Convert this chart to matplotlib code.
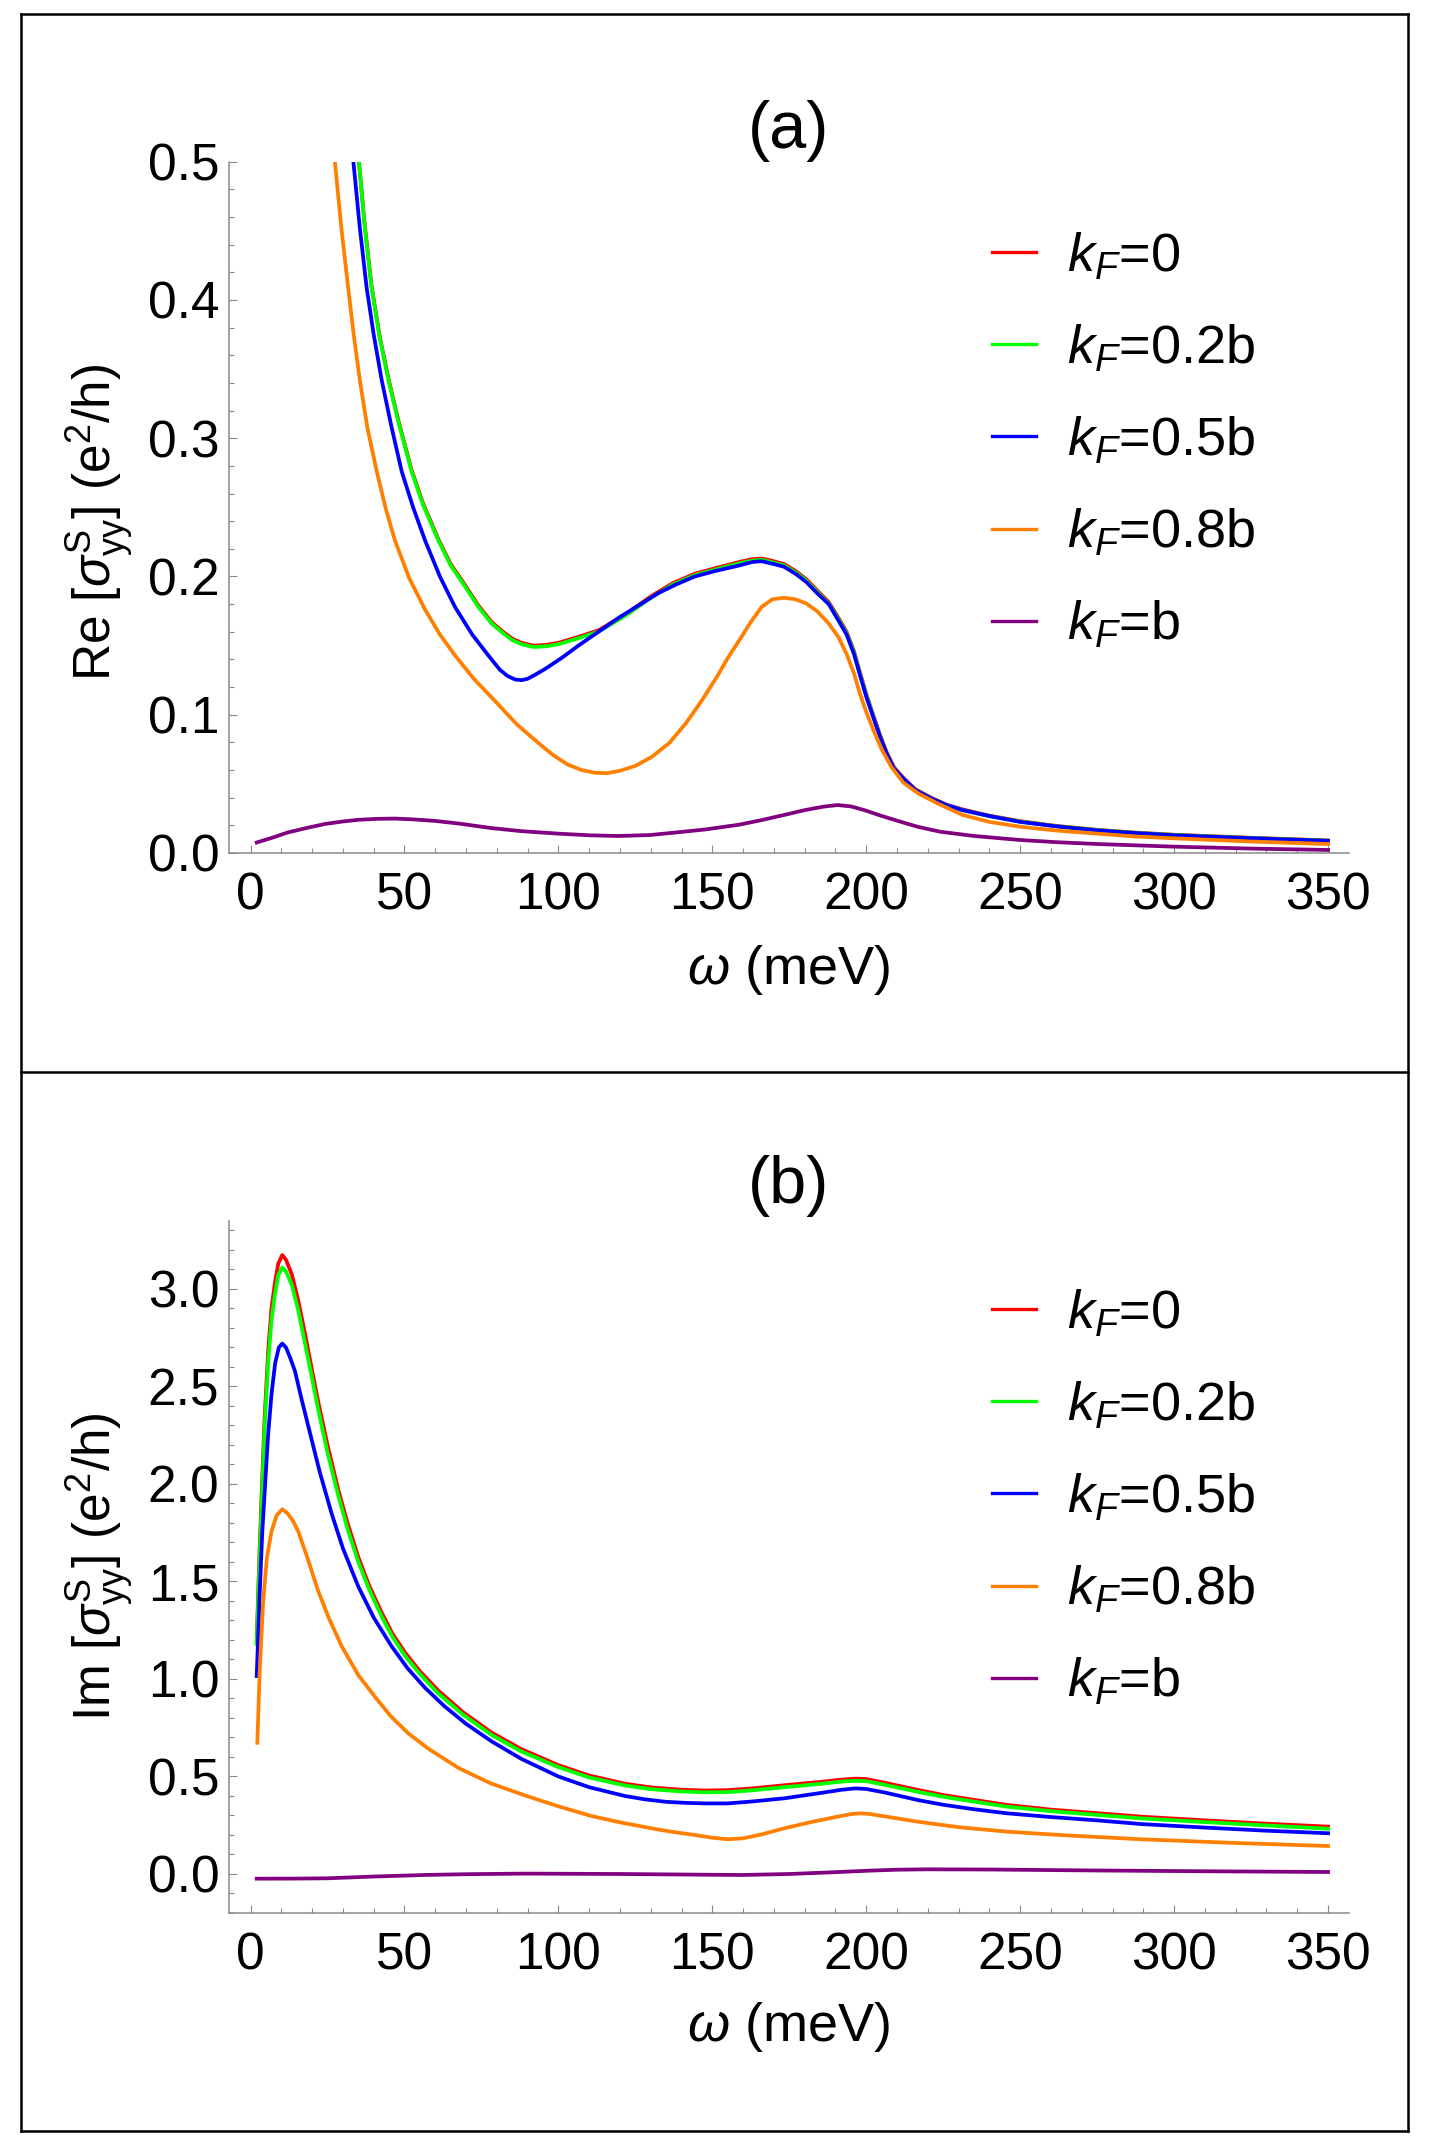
import matplotlib
matplotlib.use("Agg")
import matplotlib.pyplot as plt
from matplotlib.lines import Line2D
from matplotlib.ticker import MultipleLocator, FormatStrFormatter

plt.rcParams['font.family'] = 'Liberation Sans'
plt.rcParams['mathtext.fontset'] = 'custom'
plt.rcParams['mathtext.rm'] = 'Liberation Sans'
plt.rcParams['mathtext.it'] = 'Liberation Sans:italic'
plt.rcParams['mathtext.bf'] = 'Liberation Sans:bold'

# legend labels / colours
labels = [r'$k_F$=0', r'$k_F$=0.2b', r'$k_F$=0.5b', r'$k_F$=0.8b', r'$k_F$=b']
colors = ['#ff0000', '#00ff00', '#0000ff', '#ff8000', '#800080']

# ---- panel (a): Re sigma_yy ----
re_w0 = [31, 35.2, 37, 39.3, 42, 44.8, 48, 52.3, 56, 61, 65, 69.6, 74, 78.3, 82, 85, 88,
         91.9, 96, 100, 106, 113, 122, 130.3, 137, 144.3, 151, 158.8, 163, 166, 170, 173.3,
         177, 180.5, 184, 187.8, 191, 193.6, 196, 197.9, 200, 202.3, 204.5, 206.6, 209,
         212.4, 216, 221.1, 226, 231.3, 240, 250, 262, 274.8, 287, 300, 325, 350]
re_k0 = [0.62, 0.50, 0.456, 0.410, 0.373, 0.343, 0.313, 0.277, 0.253, 0.227, 0.209, 0.194,
         0.179, 0.167, 0.160, 0.155, 0.152, 0.150, 0.1505, 0.152, 0.156, 0.161, 0.173,
         0.186, 0.195, 0.202, 0.206, 0.2105, 0.2125, 0.213, 0.211, 0.209, 0.204, 0.198,
         0.190, 0.1815, 0.170, 0.160, 0.146, 0.131, 0.115, 0.0995, 0.085, 0.073, 0.062,
         0.0535, 0.046, 0.040, 0.035, 0.0315, 0.027, 0.023, 0.0195, 0.0168, 0.0148, 0.0132,
         0.011, 0.0091]
re_k02 = [0.62, 0.50, 0.455, 0.409, 0.372, 0.342, 0.312, 0.276, 0.252, 0.226, 0.208, 0.193,
          0.178, 0.166, 0.159, 0.154, 0.151, 0.149, 0.1495, 0.151, 0.155, 0.160, 0.172,
          0.185, 0.194, 0.201, 0.205, 0.2095, 0.2115, 0.212, 0.210, 0.208, 0.203, 0.197,
          0.189, 0.1805, 0.169, 0.159, 0.145, 0.130, 0.114, 0.0986, 0.084, 0.072, 0.061,
          0.0528, 0.0455, 0.0395, 0.0347, 0.031, 0.0267, 0.0227, 0.0193, 0.0166, 0.0146,
          0.013, 0.0108, 0.0089]

re_w05 = [29.5, 33.4, 35.5, 37.7, 40, 42.6, 45.8, 49.1, 52.8, 56.7, 61.5, 66.4, 72, 77.2, 81,
          83.5, 85.9, 88, 90, 92.5, 95.6, 101, 106.5, 113, 119.5, 126, 132.5, 138, 144.3, 151,
          158.8, 163, 166, 170, 173.3, 177, 180.5, 184, 187.8, 191, 193.6, 196, 197.9, 200,
          202.3, 204.5, 206.6, 209, 212.4, 216, 221.1, 226, 231.3, 240, 250, 262, 274.8,
          287, 300, 325, 350]
re_k05 = [0.62, 0.50, 0.452, 0.409, 0.375, 0.342, 0.308, 0.276, 0.250, 0.226, 0.200, 0.178,
          0.158, 0.143, 0.1325, 0.128, 0.1255, 0.125, 0.126, 0.129, 0.133, 0.141, 0.150,
          0.160, 0.170, 0.179, 0.188, 0.194, 0.200, 0.204, 0.208, 0.2105, 0.211, 0.209,
          0.207, 0.202, 0.196, 0.188, 0.180, 0.168, 0.158, 0.144, 0.129, 0.113, 0.098,
          0.084, 0.072, 0.061, 0.053, 0.0455, 0.0395, 0.0347, 0.031, 0.0267, 0.0225, 0.0192,
          0.0164, 0.0145, 0.0128, 0.0107, 0.0088]

re_w08 = [24, 27.4, 29.5, 31.7, 33.5, 35.5, 38, 41, 43.8, 46.9, 51.5, 56.7, 61.5, 66.4, 72.5,
          79.4, 86.5, 94.6, 98.5, 103, 107.5, 111.9, 116, 120, 125, 130.3, 136, 141.4, 146.5,
          151.5, 155, 158.8, 162.5, 166, 169.5, 173.3, 177, 180.5, 184, 187.8, 191, 193.6,
          196, 197.9, 200, 202.3, 205, 208.1, 212, 216.8, 223, 231.3, 240, 250, 262, 275,
          287, 300, 325, 350]
re_k08 = [0.62, 0.50, 0.452, 0.409, 0.375, 0.342, 0.307, 0.276, 0.250, 0.226, 0.199, 0.176,
          0.158, 0.143, 0.126, 0.110, 0.093, 0.0775, 0.0705, 0.064, 0.060, 0.058, 0.0578,
          0.0595, 0.063, 0.0695, 0.0795, 0.0938, 0.110, 0.1275, 0.141, 0.154, 0.167, 0.178,
          0.1835, 0.1846, 0.1835, 0.1805, 0.175, 0.166, 0.156, 0.144, 0.130, 0.1155, 0.102,
          0.089, 0.075, 0.0624, 0.051, 0.0432, 0.036, 0.0275, 0.0225, 0.019, 0.0162, 0.014,
          0.012, 0.0106, 0.0083, 0.0065]

re_w1 = [2, 7, 12, 18, 24.2, 30, 35, 41, 46.9, 53, 60, 68, 78.3, 88, 100, 110, 119.5, 129.8,
         138, 147.6, 158.8, 166, 173.3, 180, 186, 190.7, 195, 199.4, 205, 211, 217, 224, 235,
         250, 262, 275, 300, 325, 350]
re_k1 = [0.0076, 0.011, 0.0148, 0.018, 0.021, 0.0228, 0.024, 0.0247, 0.0249, 0.0243, 0.0232,
         0.0212, 0.018, 0.0158, 0.014, 0.0128, 0.0123, 0.013, 0.0148, 0.017, 0.0205, 0.0238,
         0.0275, 0.031, 0.0335, 0.0347, 0.0337, 0.031, 0.0268, 0.0227, 0.0188, 0.0154,
         0.0123, 0.0094, 0.0078, 0.0065, 0.0046, 0.0032, 0.0022]

# ---- panel (b): Im sigma_yy ----
im_w0 = [2, 2.8, 3.6, 4.6, 5.8, 6.8, 7.9, 9, 10.3, 11.5, 13.4, 15.5, 17.7, 20, 22, 25, 28.5,
         31.5, 35, 38.5, 42.6, 46, 50.2, 55, 61, 69, 78.3, 88, 100, 110, 121.6, 130, 140,
         147.6, 155, 163, 173.3, 185, 192, 196.5, 200, 206, 216.8, 225, 235, 245.8, 260, 275,
         289.4, 310, 330, 350]
im_k0 = [1.20, 1.60, 1.95, 2.35, 2.70, 2.90, 3.03, 3.13, 3.174, 3.15, 3.075, 2.94, 2.77, 2.58,
         2.42, 2.20, 1.97, 1.80, 1.625, 1.48, 1.34, 1.235, 1.135, 1.04, 0.94, 0.83, 0.725,
         0.64, 0.558, 0.505, 0.463, 0.444, 0.432, 0.428, 0.430, 0.439, 0.455, 0.472, 0.484,
         0.489, 0.487, 0.468, 0.431, 0.405, 0.380, 0.354, 0.330, 0.312, 0.294, 0.275, 0.258,
         0.243]
im_k02 = [1.18, 1.56, 1.90, 2.30, 2.64, 2.84, 2.97, 3.07, 3.11, 3.09, 3.02, 2.89, 2.72, 2.54,
          2.38, 2.16, 1.94, 1.77, 1.60, 1.46, 1.32, 1.218, 1.118, 1.025, 0.925, 0.817, 0.713,
          0.628, 0.548, 0.495, 0.454, 0.435, 0.423, 0.419, 0.420, 0.429, 0.445, 0.462, 0.474,
          0.478, 0.476, 0.457, 0.421, 0.396, 0.371, 0.345, 0.322, 0.303, 0.285, 0.266, 0.249,
          0.232]

im_w05 = [2, 3, 3.8, 4.7, 5.7, 6.8, 8, 9.2, 10.3, 11.5, 12.8, 14.4, 16.5, 19.8, 22.5, 26.3,
          30, 35, 40, 45.8, 51, 56.6, 63, 70, 78.3, 88, 100, 110, 121.6, 128, 135, 141, 147.6,
          155, 163, 173.3, 185, 192, 196.5, 200, 206, 216.8, 225, 235, 245.8, 260, 275, 289.4,
          310, 330, 350]
im_k05 = [1.015, 1.45, 1.75, 1.99, 2.25, 2.46, 2.62, 2.70, 2.72, 2.70, 2.65, 2.58, 2.44, 2.23,
          2.06, 1.85, 1.67, 1.474, 1.315, 1.168, 1.055, 0.956, 0.86, 0.77, 0.68, 0.59, 0.50,
          0.445, 0.40, 0.383, 0.37, 0.365, 0.362, 0.362, 0.372, 0.388, 0.415, 0.432, 0.439,
          0.436, 0.418, 0.379, 0.355, 0.332, 0.311, 0.292, 0.275, 0.256, 0.238, 0.222, 0.209]

im_w08 = [2.2, 3, 4.1, 5.3, 6.8, 8.5, 10.3, 12, 13.8, 15.5, 18.5, 22, 25.5, 29.6, 35, 40.4,
          45.5, 51.3, 58, 67.5, 78, 89.1, 100, 110.8, 120, 131, 137, 144.3, 150, 155.2, 160,
          166, 173.3, 182, 190, 195, 197.9, 201, 207, 216.8, 230, 245.8, 265, 289.4, 320, 350]
im_k08 = [0.673, 1.05, 1.40, 1.62, 1.757, 1.84, 1.87, 1.85, 1.81, 1.757, 1.62, 1.45, 1.31,
          1.168, 1.02, 0.909, 0.81, 0.72, 0.64, 0.544, 0.465, 0.403, 0.347, 0.297, 0.265,
          0.232, 0.216, 0.200, 0.186, 0.178, 0.183, 0.203, 0.234, 0.266, 0.292, 0.307, 0.311,
          0.308, 0.293, 0.268, 0.240, 0.217, 0.198, 0.178, 0.159, 0.1436]

im_w1 = [2, 15, 25, 40, 56.7, 70, 89, 105, 120, 135, 150, 160, 175, 187.8, 195, 202.3, 210,
         219.7, 240, 274.8, 310, 350]
im_k1 = [-0.024, -0.0235, -0.022, -0.013, -0.005, -0.001, 0.002, 0.001, 0.0, -0.002, -0.004,
         -0.005, 0.0, 0.008, 0.013, 0.018, 0.022, 0.024, 0.023, 0.018, 0.014, 0.0103]

W, H = 1434, 2148
fig = plt.figure(figsize=(W / 100, H / 100), dpi=100)

FS = 37
LW = 2.7
gray = '#8a8a8a'


def style(ax, ylo, yhi, ymaj, ymin):
    ax.set_xlim(-7, 356.8)
    ax.set_ylim(ylo, yhi)
    for s in ['top', 'right']:
        ax.spines[s].set_visible(False)
    for s in ['left', 'bottom']:
        ax.spines[s].set_color(gray)
        ax.spines[s].set_linewidth(1.1)
    ax.xaxis.set_major_locator(MultipleLocator(50))
    ax.xaxis.set_minor_locator(MultipleLocator(10))
    ax.yaxis.set_major_locator(MultipleLocator(ymaj))
    ax.yaxis.set_minor_locator(MultipleLocator(ymin))
    ax.yaxis.set_major_formatter(FormatStrFormatter('%.1f'))
    ax.tick_params(which='both', direction='in', color=gray, width=0.8, labelsize=FS)
    ax.tick_params(which='major', length=6)
    ax.tick_params(which='minor', length=3.6)
    ax.tick_params(axis='x', pad=13)
    ax.tick_params(axis='y', pad=7)


# panel (a)
ax1 = fig.add_axes([229 / W, 1 - 853 / H, 1120 / W, 691.3 / H])
ax1.plot(re_w0, re_k0, color=colors[0], lw=LW, label=labels[0])
ax1.plot(re_w0, re_k02, color=colors[1], lw=LW, label=labels[1])
ax1.plot(re_w05, re_k05, color=colors[2], lw=LW, label=labels[2])
ax1.plot(re_w08, re_k08, color=colors[3], lw=LW, label=labels[3])
ax1.plot(re_w1, re_k1, color=colors[4], lw=LW, label=labels[4])
style(ax1, 0, 0.5, 0.1, 0.02)
ax1.set_xlabel(r'$\omega$ (meV)', fontsize=39, va='center')
ax1.xaxis.set_label_coords(0.5, (853 - 970) / 691.3)
ax1.set_ylabel(r'Re $[\sigma^{\mathrm{S}}_{\mathrm{yy}}]$ (e$^2$/h)', fontsize=FS, va='center')
ax1.yaxis.set_label_coords((99 - 229) / 1120, 0.478)

# panel (b)
ax2 = fig.add_axes([229 / W, 1 - 1913 / H, 1120 / W, 692.3 / H])
ax2.plot(im_w0, im_k0, color=colors[0], lw=LW, label=labels[0])
ax2.plot(im_w0, im_k02, color=colors[1], lw=LW, label=labels[1])
ax2.plot(im_w05, im_k05, color=colors[2], lw=LW, label=labels[2])
ax2.plot(im_w08, im_k08, color=colors[3], lw=LW, label=labels[3])
ax2.plot(im_w1, im_k1, color=colors[4], lw=LW, label=labels[4])
style(ax2, -0.2, 3.35, 0.5, 0.1)
ax2.set_xlabel(r'$\omega$ (meV)', fontsize=39, va='center')
ax2.xaxis.set_label_coords(0.5, (1913 - 2027) / 692.3)
ax2.set_ylabel(r'Im $[\sigma^{\mathrm{S}}_{\mathrm{yy}}]$ (e$^2$/h)', fontsize=FS, va='center')
ax2.yaxis.set_label_coords((99 - 229) / 1120, 0.5)

# legends
for ax, top in [(ax1, 231), (ax2, 1288)]:
    leg = ax.legend(loc='upper left', bbox_to_anchor=(992 / W, 1 - top / H),
                    bbox_transform=fig.transFigure, frameon=False, fontsize=39,
                    handlelength=0.82, handletextpad=0.57, labelspacing=0.75, borderpad=0,
                    borderaxespad=0)
    for h in leg.get_lines():
        h.set_linewidth(2.4)

# panel titles
fig.text(789 / W, 1 - 131 / H, '(a)', fontsize=48, ha='center', va='center')
fig.text(789 / W, 1 - 1186 / H, '(b)', fontsize=48, ha='center', va='center')

# outer frames
xl, xr = 21 / W, 1408 / W
for y in [14, 1072, 2131]:
    fig.add_artist(Line2D([xl, xr], [1 - y / H, 1 - y / H], color='black', lw=1.8,
                          transform=fig.transFigure))
for x in [xl, xr]:
    fig.add_artist(Line2D([x, x], [1 - 14 / H, 1 - 2131 / H], color='black', lw=1.8,
                          transform=fig.transFigure))

fig.savefig('out.png', dpi=100)
